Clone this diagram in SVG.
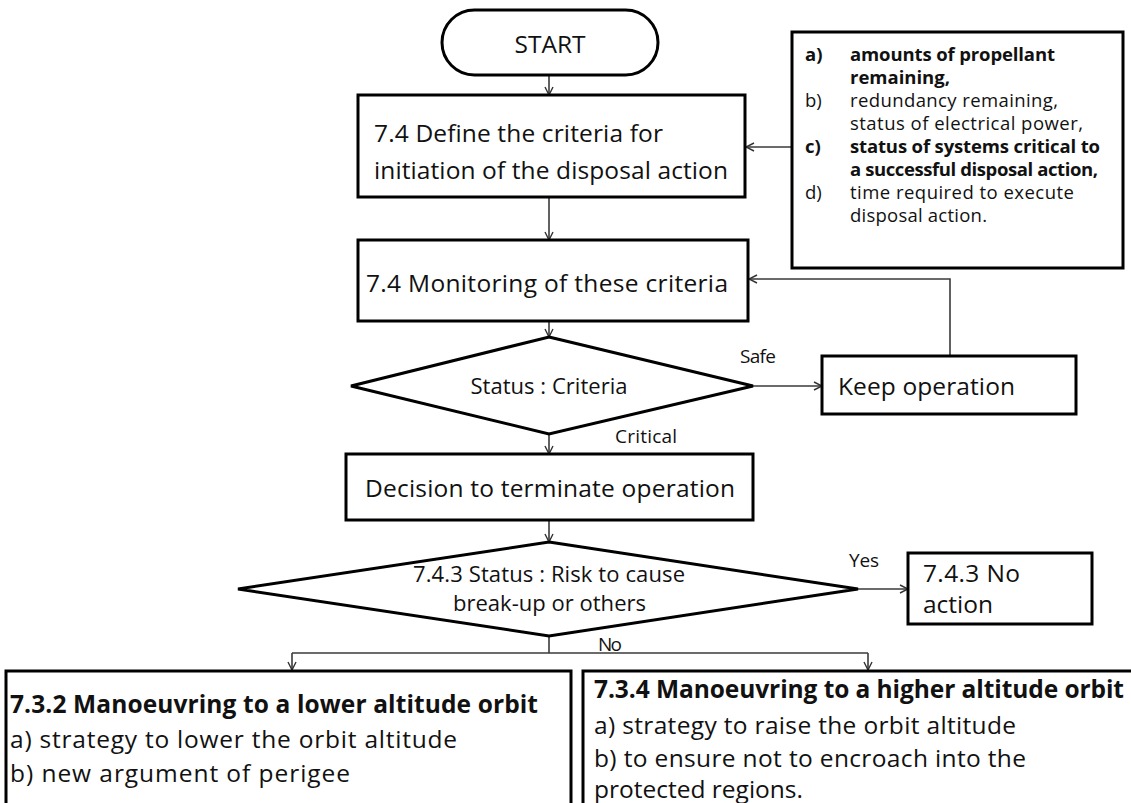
<svg xmlns="http://www.w3.org/2000/svg" width="1131" height="803" viewBox="0 0 1131 803">
<defs>
<marker id="arr" viewBox="0 0 10 10" refX="9" refY="5" markerWidth="10" markerHeight="10" markerUnits="userSpaceOnUse" orient="auto">
<path d="M1,1 L9,5 L1,9" fill="none" stroke="#333" stroke-width="1.4"/>
</marker>
<style>
.box{fill:#fff;stroke:#000;stroke-width:3}
.conn{fill:none;stroke:#3a3a3a;stroke-width:1.6}
.t{font-family:"Open Sans","Liberation Sans",sans-serif;fill:#111}
.big{font-size:24.5px}
.mid{font-size:22px}
.lab{font-size:19px}
.sm{font-size:18.5px}
.b{font-weight:bold}
</style>
</defs>
<rect width="1131" height="803" fill="#fff"/>

<g id="connectors">
<line class="conn" x1="549" y1="75" x2="549" y2="95" marker-end="url(#arr)"/>
<line class="conn" x1="792" y1="147" x2="746" y2="147" marker-end="url(#arr)"/>
<line class="conn" x1="549" y1="197" x2="549" y2="240" marker-end="url(#arr)"/>
<line class="conn" x1="549" y1="321" x2="549" y2="337" marker-end="url(#arr)"/>
<line class="conn" x1="753" y1="386" x2="822" y2="386" marker-end="url(#arr)"/>
<polyline class="conn" points="950,356 950,279 749,279" marker-end="url(#arr)"/>
<line class="conn" x1="549" y1="434" x2="549" y2="454" marker-end="url(#arr)"/>
<line class="conn" x1="549" y1="520" x2="549" y2="542" marker-end="url(#arr)"/>
<line class="conn" x1="858" y1="589" x2="908" y2="589" marker-end="url(#arr)"/>
<line class="conn" x1="549" y1="636" x2="549" y2="653"/>
<line class="conn" x1="292" y1="653" x2="868" y2="653"/>
<line class="conn" x1="292" y1="653" x2="292" y2="670" marker-end="url(#arr)"/>
<line class="conn" x1="868" y1="653" x2="868" y2="670" marker-end="url(#arr)"/>
<text class="t lab" x="740" y="363" textLength="36">Safe</text>
<text class="t lab" x="615" y="443" textLength="62">Critical</text>
<text class="t lab" x="849" y="567" textLength="30">Yes</text>
<text class="t lab" x="598" y="651" textLength="24">No</text>
</g>

<g id="start">
<rect class="box" x="442" y="10" width="216" height="65" rx="32.5"/>
<text class="t big" x="550" y="53" text-anchor="middle">START</text>
</g>

<g id="define">
<rect class="box" x="358" y="95" width="387" height="102"/>
<text class="t big" x="374" y="142" textLength="289">7.4 Define the criteria for</text>
<text class="t big" x="374" y="179" textLength="354">initiation of the disposal action</text>
</g>

<g id="criteria">
<rect class="box" x="792" y="32" width="331" height="236"/>
<text class="t sm b" x="805" y="61">a)</text>
<text class="t sm b" x="850" y="61" textLength="205">amounts of propellant</text>
<text class="t sm b" x="850" y="84" textLength="100">remaining,</text>
<text class="t sm" x="805" y="107">b)</text>
<text class="t sm" x="850" y="107" textLength="208">redundancy remaining,</text>
<text class="t sm" x="850" y="130" textLength="233">status of electrical power,</text>
<text class="t sm b" x="805" y="153">c)</text>
<text class="t sm b" x="850" y="153" textLength="250">status of systems critical to</text>
<text class="t sm b" x="850" y="176" textLength="248">a successful disposal action,</text>
<text class="t sm" x="805" y="199">d)</text>
<text class="t sm" x="850" y="199" textLength="224">time required to execute</text>
<text class="t sm" x="850" y="222" textLength="137">disposal action.</text>
</g>

<g id="monitor">
<rect class="box" x="358" y="240" width="390" height="81"/>
<text class="t big" x="366" y="292" textLength="362">7.4 Monitoring of these criteria</text>
</g>

<g id="status">
<polygon class="box" points="549,337 753,386 549,434 351,386"/>
<text class="t mid" x="549" y="394" text-anchor="middle" textLength="157">Status : Criteria</text>
</g>

<g id="keep">
<rect class="box" x="822" y="356" width="254" height="58"/>
<text class="t big" x="838" y="395" textLength="177">Keep operation</text>
</g>

<g id="decision">
<rect class="box" x="346" y="454" width="407" height="66"/>
<text class="t big" x="365" y="497" textLength="370">Decision to terminate operation</text>
</g>

<g id="risk">
<polygon class="box" points="549,542 858,589 549,636 238,589"/>
<text class="t mid" x="413" y="582" textLength="272">7.4.3 Status : Risk to cause</text>
<text class="t mid" x="453" y="611" textLength="193">break-up or others</text>
</g>

<g id="noaction">
<rect class="box" x="908" y="553" width="184" height="71"/>
<text class="t big" x="923" y="582" textLength="97">7.4.3 No</text>
<text class="t big" x="923" y="613">action</text>
</g>

<g id="lower">
<rect class="box" x="6" y="671" width="565" height="150"/>
<text class="t big b" x="10" y="713" textLength="528">7.3.2 Manoeuvring to a lower altitude orbit</text>
<text class="t big" x="10" y="748" textLength="447">a) strategy to lower the orbit altitude</text>
<text class="t big" x="10" y="782" textLength="340">b) new argument of perigee</text>
</g>

<g id="higher">
<rect class="box" x="583" y="671" width="560" height="150"/>
<text class="t big b" x="594" y="698" textLength="530">7.3.4 Manoeuvring to a higher altitude orbit</text>
<text class="t big" x="594" y="734" textLength="422">a) strategy to raise the orbit altitude</text>
<text class="t big" x="594" y="767" textLength="432">b) to ensure not to encroach into the</text>
<text class="t big" x="594" y="798">protected regions.</text>
</g>
</svg>
